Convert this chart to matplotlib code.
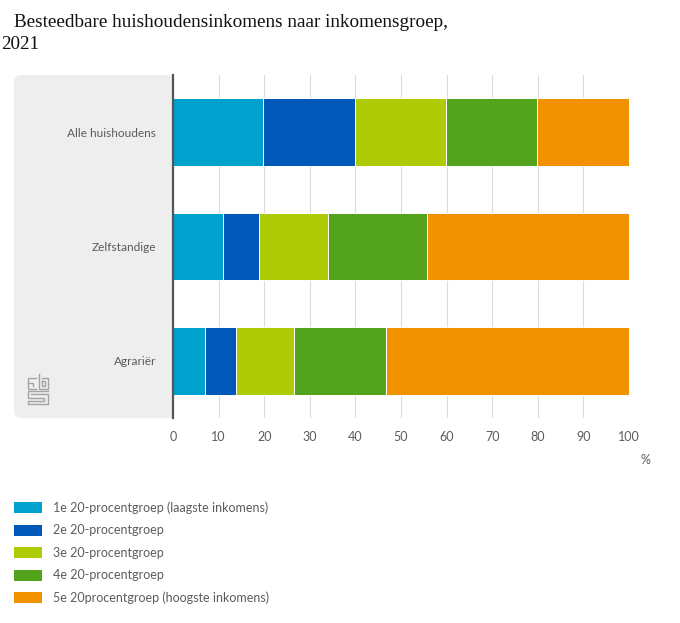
import matplotlib
matplotlib.use('Agg')
import matplotlib.pyplot as plt
from matplotlib.patches import FancyBboxPatch, Rectangle

categories = ['Alle huishoudens', 'Zelfstandige', 'Agrariër']
groep1 = [19.8, 10.9, 7.0]
groep2 = [20.1, 7.9, 6.8]
groep3 = [20.0, 15.1, 12.7]
groep4 = [20.0, 21.9, 20.2]
groep5 = [20.1, 44.2, 53.3]
series = [groep1, groep2, groep3, groep4, groep5]
legend_labels = ['1e 20-procentgroep (laagste inkomens)', '2e 20-procentgroep',
                 '3e 20-procentgroep', '4e 20-procentgroep',
                 '5e 20procentgroep (hoogste inkomens)']
colors = ['#00a1cd', '#0058b8', '#afcb05', '#53a31d', '#f39200']
xticks = list(range(0, 101, 10))

W, H = 680, 623
plt.rcParams['font.family'] = ['Lato', 'DejaVu Sans']
fig = plt.figure(figsize=(W / 100, H / 100), dpi=100)

# overlay in pixel coordinates for panel, logo, legend
bg = fig.add_axes([0, 0, 1, 1])
bg.set_xlim(0, W)
bg.set_ylim(H, 0)
bg.axis('off')

bg.add_patch(FancyBboxPatch((14, 75), 159, 343, boxstyle='round,pad=0,rounding_size=7',
                            fc='#eeeeee', ec='none', zorder=0))
bg.add_patch(Rectangle((150, 75), 23, 343, fc='#eeeeee', ec='none', zorder=0))

# cbs logo
logo = [
    [(36, 377.5), (27.5, 377.5), (27.5, 388.5), (36, 388.5)],
    [(27.5, 382.5), (33, 382.5), (33, 385.5)],
    [(38.5, 373.5), (38.5, 388.5), (47.5, 388.5), (47.5, 377.5), (41.5, 377.5)],
    [(42, 381), (45, 381), (45, 385.5), (42, 385.5), (42, 381)],
    [(47.5, 390.5), (27.5, 390.5), (27.5, 397.5), (44, 397.5), (44, 400.5), (27.5, 400.5),
     (27.5, 404), (47.5, 404), (47.5, 394), (31, 394)],
]
for part in logo:
    bg.plot([p[0] for p in part], [p[1] for p in part], color='#a3a3a3', lw=1.0, solid_joinstyle='miter')

x0, x1, y_top, y_bot = 173, 629, 75, 418
ax = fig.add_axes([x0 / W, 1 - y_bot / H, (x1 - x0) / W, (y_bot - y_top) / H])
ax.patch.set_alpha(0)
ax.set_xlim(0, 100)
ax.set_ylim(2.5, -0.5)

left = [0, 0, 0]
for vals, c in zip(series, colors):
    ax.barh(categories, vals, left=left, height=0.59, color=c, edgecolor='white', linewidth=0.7, zorder=3)
    left = [a + b for a, b in zip(left, vals)]

ax.set_xticks(xticks)
ax.xaxis.grid(True, color='#dcdcdc', lw=0.8, zorder=0)
ax.tick_params(axis='x', length=0, pad=9.2, labelsize=9, labelcolor='#5c5c5c')
ax.tick_params(axis='y', length=0, pad=12, labelsize=8.6, labelcolor='#5c5c5c')
for s in ['top', 'right', 'bottom']:
    ax.spines[s].set_visible(False)
ax.spines['left'].set_color('#555555')
ax.spines['left'].set_linewidth(1.6)
ax.spines['left'].set_zorder(5)

bg.text(645, 460, '%', fontsize=9, color='#5c5c5c', ha='center', va='center')

# legend by hand so the spacing follows the original
for i, (lab, c) in enumerate(zip(legend_labels, colors)):
    y = 507.5 + i * 22.6
    bg.add_patch(Rectangle((14, y - 5.5), 28, 11, fc=c, ec='none'))
    bg.text(53, y, lab, fontsize=9, color='#5c5c5c', va='center')

bg.text(14, 27, 'Besteedbare huishoudensinkomens naar inkomensgroep,',
        family=['Liberation Serif'], fontsize=13.75, color='#111111', va='baseline')
bg.text(1, 49, '2021', family=['Liberation Serif'], fontsize=13.75, color='#111111', va='baseline')

fig.savefig('out.png', dpi=100)
